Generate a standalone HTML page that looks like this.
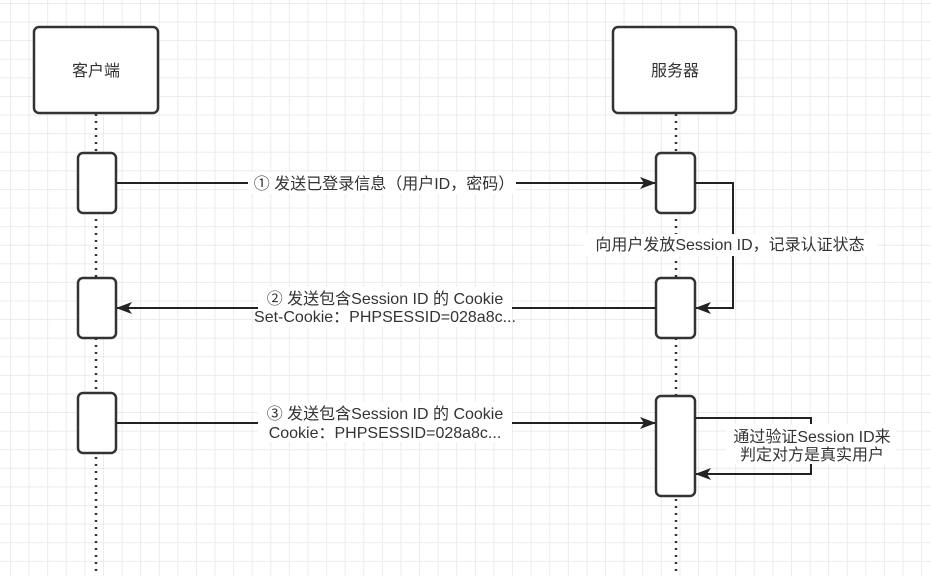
<!DOCTYPE html>
<html><head><meta charset="utf-8"><style>
body{margin:0;width:931px;height:576px;overflow:hidden;background:#fff;
background-image:linear-gradient(#ebebeb 1px,transparent 1px),linear-gradient(90deg,#ebebeb 1px,transparent 1px);background-size:18.6px 18.6px;background-position:10px 3px;}
svg{position:absolute;left:0;top:0}
text{font-family:"Liberation Sans","Noto Sans CJK SC",sans-serif;font-size:16px;fill:#333}
</style></head><body>
<svg width="931" height="576" viewBox="0 0 931 576">
<defs><marker id="a" markerWidth="16" markerHeight="12" refX="15" refY="6" orient="auto" markerUnits="userSpaceOnUse"><path d="M0,0 L16,6 L0,12 L4,6 z" fill="#222"/></marker></defs>
<g stroke="#333" stroke-width="2.5" stroke-dasharray="2,5" fill="none">
<line x1="96" y1="114" x2="96" y2="576"/><line x1="676" y1="114" x2="676" y2="576"/></g>
<g fill="#fff" stroke="#333" stroke-width="2.5">
<rect x="34" y="27" width="124" height="86" rx="5"/>
<rect x="613" y="27" width="123" height="86" rx="5"/>
<rect x="78" y="153" width="38" height="60" rx="5"/>
<rect x="78" y="278" width="38" height="60" rx="5"/>
<rect x="78" y="393" width="38" height="60" rx="5"/>
<rect x="656" y="153" width="39" height="60" rx="5"/>
<rect x="656" y="278" width="39" height="60" rx="5"/>
<rect x="656" y="396" width="39" height="100" rx="5"/>
</g>
<g stroke="#222" stroke-width="2" fill="none">
<line x1="116" y1="183" x2="655" y2="183" marker-end="url(#a)"/>
<line x1="656" y1="308" x2="117" y2="308" marker-end="url(#a)"/>
<line x1="116" y1="423" x2="655" y2="423" marker-end="url(#a)"/>
<polyline points="695,183 733,183 733,308 696,308" marker-end="url(#a)"/>
<polyline points="695,418 811,418 811,474 696,474" marker-end="url(#a)"/>
</g>
<g fill="#fff">
<rect x="248" y="172" width="268" height="22"/>
<rect x="584" y="234" width="293" height="22"/>
<rect x="258" y="287" width="254" height="40"/>
<rect x="258" y="402" width="254" height="40"/>
<rect x="726" y="424" width="170" height="40"/>
</g>
<text x="384" y="189" text-anchor="middle">① 发送已登录信息（用户ID，密码）</text>
<text x="96" y="76" text-anchor="middle">客户端</text>
<text x="675" y="76" text-anchor="middle">服务器</text>
<text x="730" y="250" text-anchor="middle">向用户发放Session ID，记录认证状态</text>
<text x="385" y="304" text-anchor="middle">② 发送包含Session ID 的 Cookie</text>
<text x="385" y="322" text-anchor="middle">Set-Cookie：PHPSESSID=028a8c...</text>
<text x="385" y="419" text-anchor="middle">③ 发送包含Session ID 的 Cookie</text>
<text x="385" y="438" text-anchor="middle">Cookie：PHPSESSID=028a8c...</text>
<text x="812" y="442" text-anchor="middle">通过验证Session ID来</text>
<text x="812" y="460" text-anchor="middle">判定对方是真实用户</text>
</svg>
</body></html>
